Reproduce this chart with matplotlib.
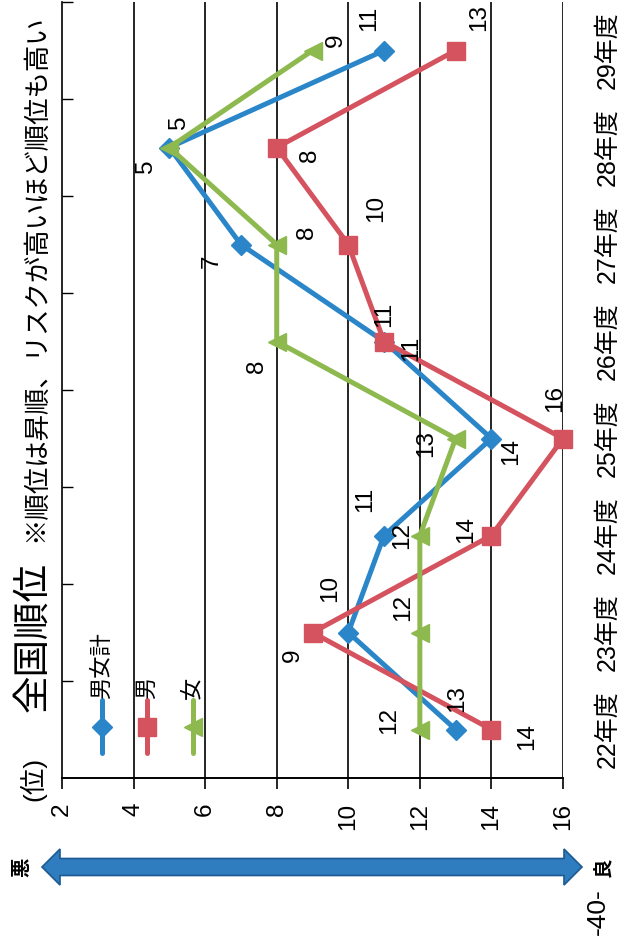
import matplotlib
matplotlib.use("Agg")
import matplotlib.pyplot as plt
from matplotlib.lines import Line2D
from matplotlib.patches import Polygon

plt.rcParams['font.family'] = ['Liberation Sans', 'Noto Sans CJK JP', 'DejaVu Sans']

# ---- data -------------------------------------------------------------
years = ["22年度", "23年度", "24年度", "25年度", "26年度", "27年度", "28年度", "29年度"]
total = [13, 10, 11, 14, 11, 7, 5, 11]     # 男女計
male = [14, 9, 14, 16, 11, 10, 8, 13]      # 男
female = [12, 12, 12, 13, 8, 8, 5, 9]      # 女
rank_ticks = [2, 4, 6, 8, 10, 12, 14, 16]

series_names = ["男女計", "男", "女"]

# ---- style --------------------------------------------------------------
colors = {"男女計": "#2a86c8", "男": "#d4535f", "女": "#8db94f"}
markers = {"男女計": ("D", 10), "男": ("s", 12.5), "女": ("<", 12.5)}
# label offsets in pixels (right, down) from each point
label_offsets = {
    "男女計": [(1, -31), (-18, -44), (-19, -36), (20, 13), (27, 7), (-29, 17), (-23, 19), (-15, -32)],
    "男": [(36, 7), (-20, 23), (-25, -6), (-8, -40), (0, -27), (28, -36), (33, 8), (23, -33)],
    "女": [(-31, -9), (-17, -25), (-18, 0), (-30, 5), (-20, 25), (30, -12), (10, -25), (23, -10)],
}

W, H = 632, 950
fig = plt.figure(figsize=(W / 100, H / 100), dpi=100)
fig.patch.set_facecolor("white")


def fx(x):
    return x / W


def fy(y):
    return 1 - y / H


ax = fig.add_axes([fx(62), fy(778), (563 - 62) / W, (778 - 2) / H])
ax.set_xlim(2, 16)
ax.set_ylim(-0.5, len(years) - 0.5)

# gridlines on the rank axis
for r in rank_ticks[1:]:
    ax.axvline(r, color="black", lw=1.2, zorder=1)

for s in ["top", "right"]:
    ax.spines[s].set_visible(False)
ax.spines["left"].set_linewidth(1.2)
ax.spines["bottom"].set_linewidth(1.4)

ax.set_xticks(rank_ticks)
ax.set_xticklabels([str(v) for v in rank_ticks], rotation=90, fontsize=17.5)
ax.tick_params(axis="x", direction="out", length=8, width=1.2, pad=10)

ax.set_yticks([i + 0.5 for i in range(len(years))])
ax.set_yticklabels([])
ax.tick_params(axis="y", direction="in", length=8, width=1.0)

# category labels to the right of the plot
ytrans = ax.get_yaxis_transform()
for i, yr in enumerate(years):
    ax.text(1.088, i, yr, transform=ytrans, rotation=90, ha="center", va="center",
            fontsize=18, clip_on=False)

ypos = list(range(len(years)))
for name, vals in zip(series_names, [total, male, female]):
    m, ms = markers[name]
    ax.plot(vals, ypos, color=colors[name], lw=3.6, marker=m, markersize=ms,
            markerfacecolor=colors[name], markeredgecolor=colors[name],
            solid_joinstyle="miter", zorder=3, clip_on=False)
    for v, yv, (dx, dy) in zip(vals, ypos, label_offsets[name]):
        ax.annotate(str(v), (v, yv), xytext=(dx, -dy), textcoords="offset pixels",
                    rotation=90, ha="center", va="center", fontsize=17.5,
                    zorder=4, annotation_clip=False)

# legend drawn vertically inside the plot
for name, xc in zip(series_names, [102, 147, 193]):
    m, ms = markers[name]
    fig.add_artist(Line2D([fx(xc), fx(xc)], [fy(753), fy(700)], color=colors[name],
                          lw=3.6, solid_capstyle="round", transform=fig.transFigure))
    fig.add_artist(Line2D([fx(xc)], [fy(727)], marker=m, markersize=ms,
                          color=colors[name], transform=fig.transFigure))
    fig.text(fx(xc), fy(699), name, rotation=90, ha="center", va="bottom", fontsize=16)

# headings along the left edge
fig.text(fx(33), fy(801), "(位)", rotation=90, ha="center", va="bottom", fontsize=19)
fig.text(fx(33), fy(712), "全国順位", rotation=90, ha="center", va="bottom", fontsize=27)
fig.text(fx(36), fy(542), "※順位は昇順、リスクが高いほど順位も高い", rotation=90,
         ha="center", va="bottom", fontsize=19)

# double-headed arrow: 悪 ⇔ 良
yc = 867
pts = [(42, yc), (60, yc - 18), (60, yc - 8.5), (564, yc - 8.5), (564, yc - 18), (582, yc),
       (564, yc + 18), (564, yc + 8.5), (60, yc + 8.5), (60, yc + 18)]
fig.add_artist(Polygon([(fx(x), fy(y)) for x, y in pts], closed=True,
                       facecolor="#2f7cbf", edgecolor="#1b5a92", lw=1.2,
                       transform=fig.transFigure))
fig.text(fx(22), fy(yc), "悪", rotation=90, ha="center", va="center", fontsize=14,
         fontweight="bold")
fig.text(fx(604), fy(yc), "良", rotation=90, ha="center", va="center", fontsize=14,
         fontweight="bold")
fig.text(fx(598), fy(935), "-40-", rotation=90, ha="center", va="bottom", fontsize=19)

fig.savefig("out.png", dpi=100, facecolor="white")
